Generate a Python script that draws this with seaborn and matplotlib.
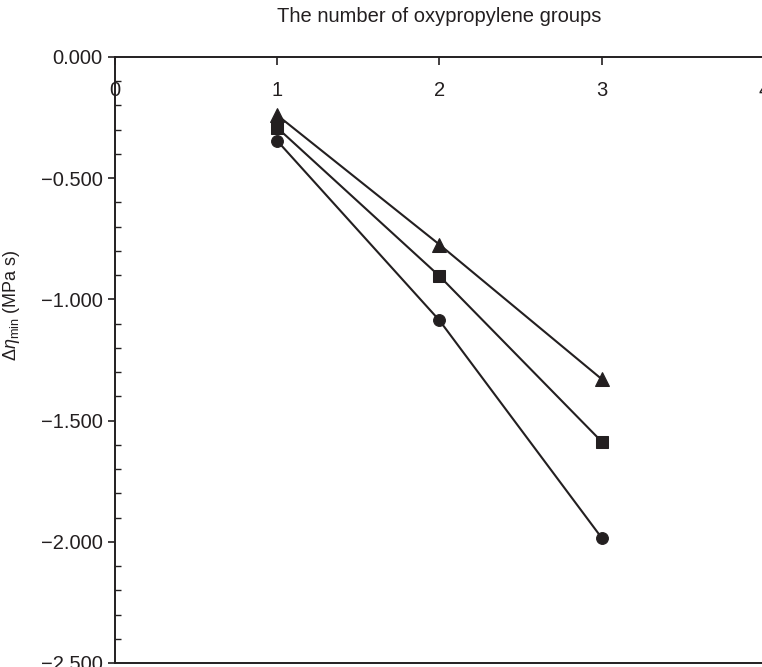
import matplotlib
matplotlib.use("Agg")
import matplotlib.pyplot as plt
from matplotlib.ticker import MultipleLocator, FuncFormatter
import pandas as pd
import seaborn as sns

# values
groups = [1, 2, 3]
triangle_vals = [-0.240, -0.774, -1.329]
square_vals = [-0.292, -0.904, -1.587]
circle_vals = [-0.346, -1.087, -1.984]

x_ticks = [0, 1, 2, 3, 4]
x_label = "The number of oxypropylene groups"
y_label = r"$\Delta\eta_{\rm min}$ (MPa s)"

ink = "#231f20"

sns.set_theme(style="white")
plt.rcParams["font.family"] = ["Liberation Sans", "DejaVu Sans"]
plt.rcParams["mathtext.fontset"] = "custom"
plt.rcParams["mathtext.rm"] = "Liberation Sans"
plt.rcParams["mathtext.it"] = "Liberation Sans:italic"
plt.rcParams["mathtext.default"] = "it"

fig = plt.figure(figsize=(7.62, 6.67), dpi=100)
ax = fig.add_axes([115 / 762, 4 / 667, 649 / 762, 606 / 667])

series = [
    ("triangle", triangle_vals, "^", 10),
    ("square", square_vals, "s", 8.5),
    ("circle", circle_vals, "o", 8.5),
]
for name, vals, mk, ms in series:
    df = pd.DataFrame({"groups": groups, "value": vals})
    sns.lineplot(data=df, x="groups", y="value", ax=ax, color=ink,
                 marker=mk, markersize=ms, markeredgecolor=ink,
                 linewidth=1.5, legend=False)

ax.set_xlim(0, 4)
ax.set_ylim(-2.5, 0)

# x axis sits on the top spine, labels drawn inside
ax.xaxis.tick_top()
ax.set_xticks(x_ticks)
ax.tick_params(axis="x", direction="in", length=6, width=1.2, colors=ink,
               labelsize=14.5, pad=-31, labelcolor=ink)
ax.xaxis.set_label_position("top")
ax.set_xlabel(x_label, fontsize=14.5, color=ink)
ax.xaxis.set_label_coords(0.5, 1.057)

ax.yaxis.set_major_locator(MultipleLocator(0.5))
ax.yaxis.set_minor_locator(MultipleLocator(0.1))
ax.yaxis.set_major_formatter(FuncFormatter(
    lambda v, p: f"{abs(v):.3f}" if abs(v) < 1e-9 else f"{v:.3f}".replace("-", "\u2212")))
ax.tick_params(axis="y", which="major", direction="out", length=5, width=1.2,
               colors=ink, labelsize=14.5, pad=4, left=True)
ax.tick_params(axis="y", which="minor", direction="in", length=4, width=1.0,
               colors=ink, left=True)
ax.set_ylabel(y_label, fontsize=13, color=ink)
ax.yaxis.set_label_coords(-0.143, 0.591)

for side in ["top", "bottom", "left"]:
    ax.spines[side].set_visible(True)
    ax.spines[side].set_color(ink)
    ax.spines[side].set_linewidth(1.4)
ax.spines["right"].set_visible(False)

fig.savefig("out.png", dpi=100)
